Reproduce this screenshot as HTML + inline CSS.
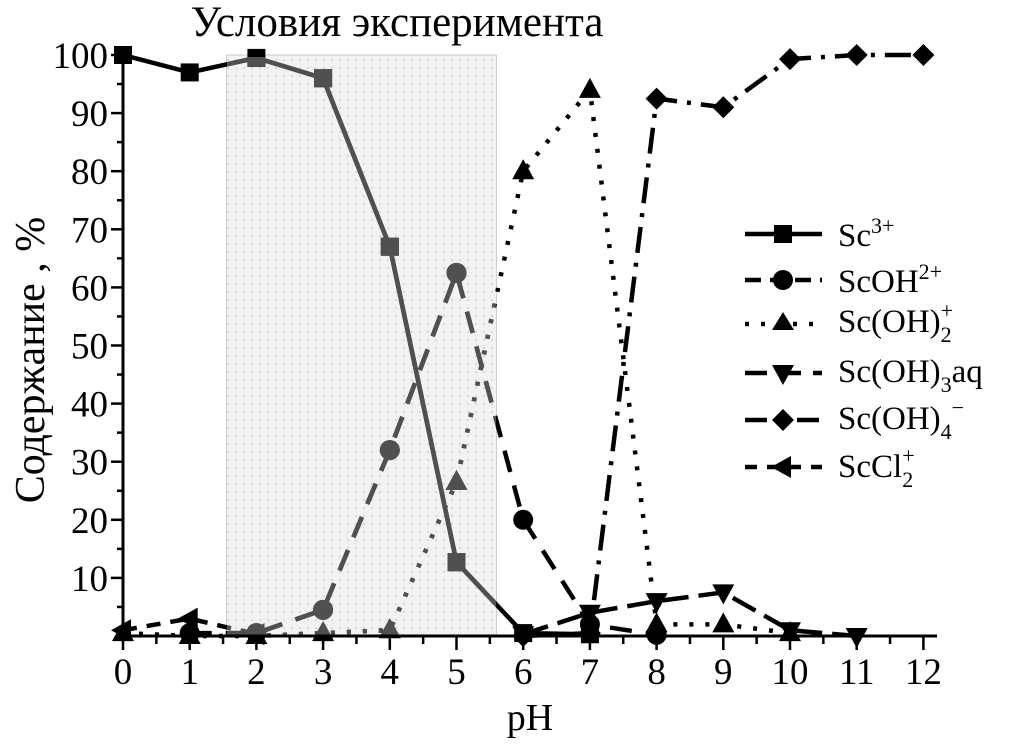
<!DOCTYPE html>
<html><head><meta charset="utf-8"><style>
body{margin:0;background:#fff}
svg text{font-family:"Liberation Serif","DejaVu Serif",serif;fill:#000}
</style></head><body>
<svg id="c" width="1015" height="747" xmlns="http://www.w3.org/2000/svg">
<defs>
<pattern id="dots" width="8" height="8" patternUnits="userSpaceOnUse"><rect width="8" height="8" fill="#f2f2f2"/><circle cx="4" cy="4" r="1" fill="#d0d0d0"/></pattern>
<clipPath id="shadeClip"><rect x="227" y="57" width="269" height="579"/></clipPath>
</defs>
<g id="plot"></g>
</svg>
<script>
const pH=[0,1,2,3,4,5,6,7,8,9,10,11,12];
const sc3=[100,97,99.5,96,67,12.7,0.5,0.3,null,null,null,null,null];
const scoh=[null,0.5,0.5,4.5,32,62.5,20,2,0.2,null,null,null,null];
const scoh2=[0.5,0,0,0.5,1,26.5,80,94,2,2,0.5,null,null];
const scoh3=[null,null,null,null,null,null,0.3,4,6,7.5,1,0,null];
const scoh4=[null,null,null,null,null,null,0,0.5,92.5,91,99.3,100,100];
const sccl=[1,3,0.3,null,null,null,null,null,null,null,null,null,null];
const xTicks=[0,1,2,3,4,5,6,7,8,9,10,11,12];
const yTicks=[10,20,30,40,50,60,70,80,90,100];
const shadeRange=[1.55,5.6];
const NS="http://www.w3.org/2000/svg";
const X=v=>123+v*66.7, Y=v=>636-v*5.81;
const g=document.getElementById('plot');
function el(t,a,p){const e=document.createElementNS(NS,t);for(const k in a)e.setAttribute(k,a[k]);(p||g).appendChild(e);return e;}
const sh=el('rect',{x:X(shadeRange[0]),y:Y(100),width:X(shadeRange[1])-X(shadeRange[0]),height:Y(0)-Y(100),fill:'url(#dots)',stroke:'#ccc'});


const series=[
 {n:'sc3',d:sc3,dash:'',m:'square'},
 {n:'scoh',d:scoh,dash:'22,14',m:'circle'},
 {n:'scoh2',d:scoh2,dash:'4,12',m:'tri'},
 {n:'scoh3',d:scoh3,dash:'26,10',m:'itri'},
 {n:'scoh4',d:scoh4,dash:'26,10,4,10',m:'diamond'},
 {n:'sccl',d:sccl,dash:'14,10',m:'ltri'}];
function marker(p,m,x,y,c){
 let e;
 if(m==='square')e=el('rect',{x:x-9,y:y-9,width:18,height:18,fill:c},p);
 else if(m==='circle')e=el('circle',{cx:x,cy:y,r:10,fill:c},p);
 else if(m==='tri')e=el('polygon',{points:`${x},${y-12} ${x-11},${y+8} ${x+11},${y+8}`,fill:c},p);
 else if(m==='itri')e=el('polygon',{points:`${x},${y+12} ${x-11},${y-8} ${x+11},${y-8}`,fill:c},p);
 else if(m==='diamond')e=el('polygon',{points:`${x},${y-11} ${x+11},${y} ${x},${y+11} ${x-11},${y}`,fill:c},p);
 else e=el('polygon',{points:`${x-12},${y} ${x+8},${y-11} ${x+8},${y+11}`,fill:c},p);
 return e;
}
function drawSeries(p,c){
 series.forEach(s=>{
  let pts=[];pH.forEach((x,i)=>{if(s.d[i]!=null)pts.push([X(x),Y(s.d[i])]);});
  const l=el('polyline',{points:pts.map(q=>q.join(',')).join(' '),fill:'none',stroke:c,'stroke-width':4.5,'stroke-dasharray':s.dash},p);
  
  
  pts.forEach(q=>{const mk=marker(p,s.m,q[0],q[1],c);
   
   });
 });
}
const g1=el('g',{});drawSeries(g1,'#000');
const g2=el('g',{'clip-path':'url(#shadeClip)'});drawSeries(g2,'#505050');
el('line',{x1:123,y1:Y(100),x2:123,y2:636,stroke:'#000','stroke-width':3});
el('line',{x1:123,y1:636,x2:937,y2:636,stroke:'#000','stroke-width':3});
yTicks.forEach(v=>{
 el('line',{x1:111,y1:Y(v),x2:123,y2:Y(v),stroke:'#000','stroke-width':2.5});
 el('line',{x1:117,y1:Y(v-5),x2:123,y2:Y(v-5),stroke:'#000','stroke-width':2.5});
 const t=el('text',{x:108,y:Y(v)+13,'text-anchor':'end','font-size':37});t.textContent=v;
 
 
});
xTicks.forEach(v=>{
 el('line',{x1:X(v),y1:636,x2:X(v),y2:650,stroke:'#000','stroke-width':2.5});
 if(v<12)el('line',{x1:X(v+0.5),y1:636,x2:X(v+0.5),y2:644,stroke:'#000','stroke-width':2.5});
 const t=el('text',{x:X(v),y:684,'text-anchor':'middle','font-size':37});t.textContent=v;
 
 
});
</script>
<svg style="position:absolute;left:0;top:0" width="1015" height="747">
<text x="397" y="36" text-anchor="middle" font-size="43">Условия эксперимента</text>
<text x="530" y="730" text-anchor="middle" font-size="38">pH</text>
<text transform="translate(44,360) rotate(-90)" text-anchor="middle" font-size="42">Содержание , %</text>
<g font-size="33">
<line x1="745" y1="234" x2="822" y2="234" stroke="#000" stroke-width="4.5"/><rect x="774" y="225" width="18" height="18"/><text x="838" y="246">Sc<tspan font-size="22" dy="-13">3+</tspan></text>
<line x1="745" y1="280" x2="822" y2="280" stroke="#000" stroke-width="4.5" stroke-dasharray="16,9"/><circle cx="783" cy="280" r="10"/><text x="838" y="292">ScOH<tspan font-size="22" dy="-13">2+</tspan></text>
<line x1="745" y1="324" x2="822" y2="324" stroke="#000" stroke-width="4.5" stroke-dasharray="4,12"/><polygon points="783,312 772,330 794,330"/><text x="838" y="332">Sc(OH)<tspan font-size="22" dy="10">2</tspan><tspan font-size="22" dx="-11" dy="-24">+</tspan></text>
<line x1="745" y1="373" x2="822" y2="373" stroke="#000" stroke-width="4.5" stroke-dasharray="22,12"/><polygon points="783,385 772,365 794,365"/><text x="838" y="382">Sc(OH)<tspan font-size="22" dy="10">3</tspan><tspan dy="-10">aq</tspan></text>
<line x1="745" y1="420" x2="822" y2="420" stroke="#000" stroke-width="4.5" stroke-dasharray="22,10,10,10"/><polygon points="783,409 794,420 783,431 772,420"/><text x="838" y="429">Sc(OH)<tspan font-size="22" dy="10">4</tspan><tspan font-size="22" dy="-24">−</tspan></text>
<line x1="745" y1="467" x2="822" y2="467" stroke="#000" stroke-width="4.5" stroke-dasharray="12,10"/><polygon points="771,467 791,456 791,478"/><text x="838" y="477">ScCl<tspan font-size="22" dy="10">2</tspan><tspan font-size="22" dx="-11" dy="-24">+</tspan></text>
</g>
</svg>
</body></html>
